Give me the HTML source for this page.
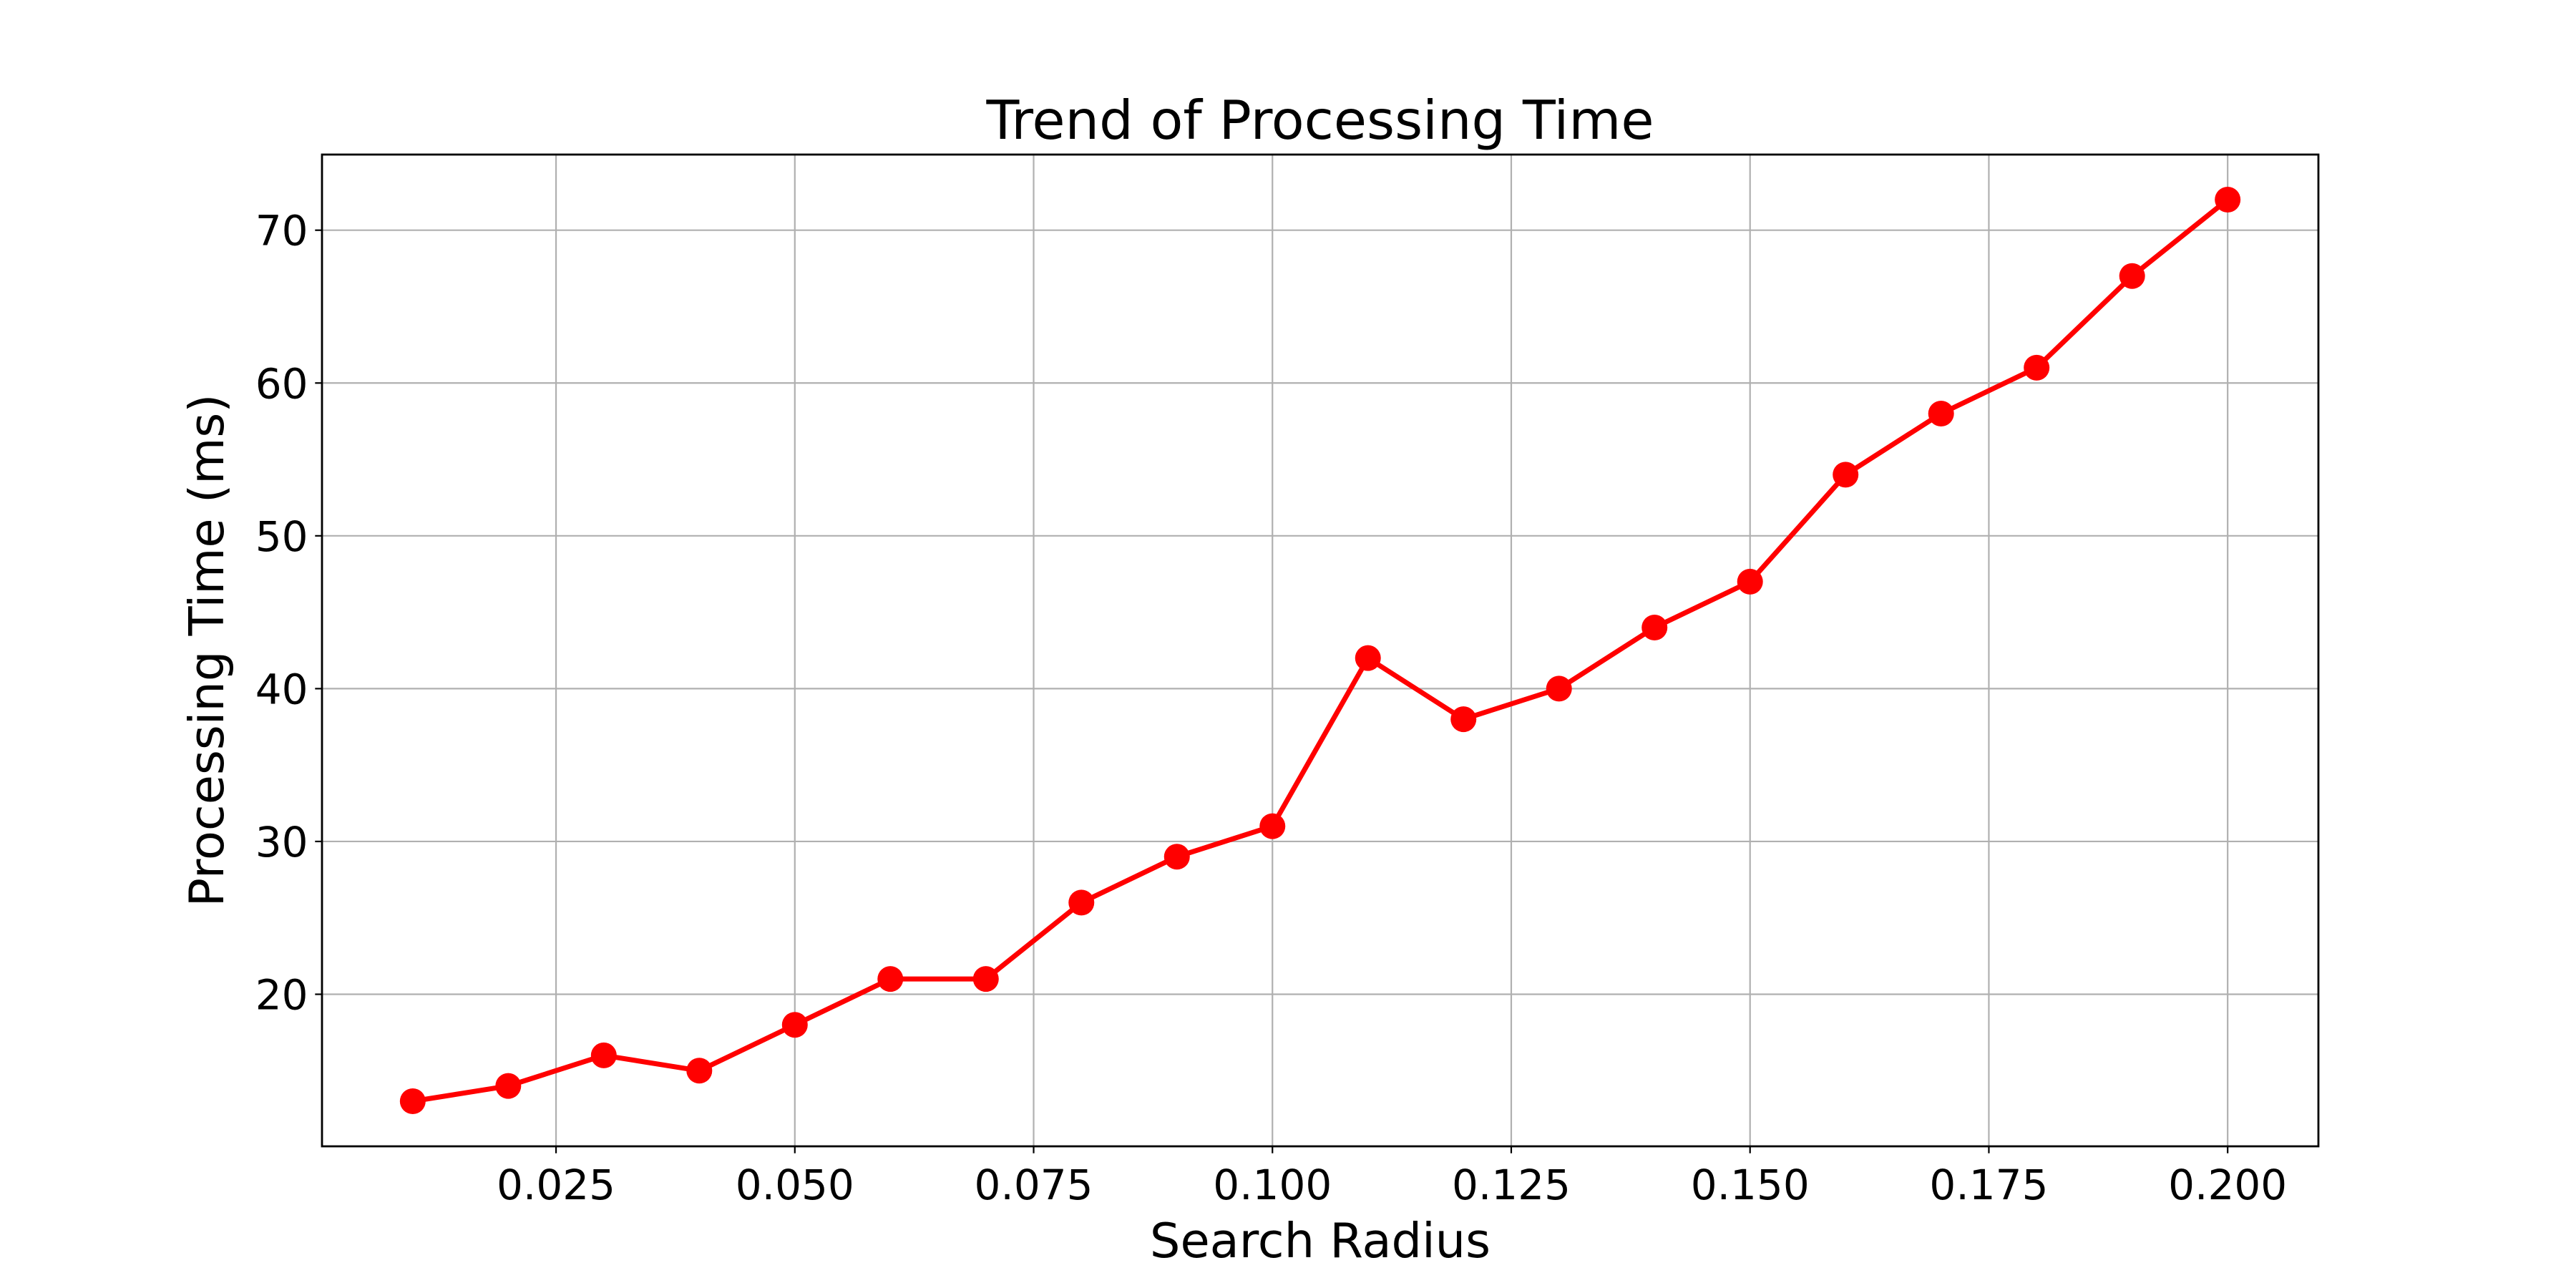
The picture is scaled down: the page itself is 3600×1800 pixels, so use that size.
<!DOCTYPE html>
<html><head><meta charset="utf-8"><style>
html,body{margin:0;padding:0;background:#fff;}
svg{display:block;font-family:"DejaVu Sans","Liberation Sans",sans-serif;}
</style></head><body>
<svg id="chart" width="3600" height="1800" viewBox="0 0 3600 1800" xmlns="http://www.w3.org/2000/svg">
<rect width="3600" height="1800" fill="#fff"/>
<g id="grid"></g>
<g id="ticks"></g>
<g id="series"></g>
<rect x="450" y="216" width="2790" height="1386" fill="none" stroke="#000" stroke-width="2.8"/>
<text x="1845" y="194" font-size="75" text-anchor="middle">Trend of Processing Time</text>
<text x="1845" y="1757" font-size="67" text-anchor="middle">Search Radius</text>
<text x="0" y="0" font-size="67" text-anchor="middle" transform="translate(312,909) rotate(-90)">Processing Time (ms)</text>
</svg>
<script>
const radii = [0.01,0.02,0.03,0.04,0.05,0.06,0.07,0.08,0.09,0.10,0.11,0.12,0.13,0.14,0.15,0.16,0.17,0.18,0.19,0.20];
const times = [13,14,16,15,18,21,21,26,29,31,42,38,40,44,47,54,58,61,67,72];
const xTicks = [0.025,0.050,0.075,0.100,0.125,0.150,0.175,0.200];
const xTickLabels = ["0.025","0.050","0.075","0.100","0.125","0.150","0.175","0.200"];
const yTicks = [20,30,40,50,60,70];
const yTickLabels = ["20","30","40","50","60","70"];

const L=450,R=3240,T=216,B=1602;
const xmin0=Math.min(...radii),xmax0=Math.max(...radii),xm=(xmax0-xmin0)*0.05;
const ymin0=Math.min(...times),ymax0=Math.max(...times),ym=(ymax0-ymin0)*0.05;
const xMin=xmin0-xm,xMax=xmax0+xm,yMin=ymin0-ym,yMax=ymax0+ym;
function sx(v){return L+(v-xMin)/(xMax-xMin)*(R-L);}
function sy(v){return B-(v-yMin)/(yMax-yMin)*(B-T);}
const NS="http://www.w3.org/2000/svg";
function mk(tag,attrs,parent){const e=document.createElementNS(NS,tag);for(const k in attrs)e.setAttribute(k,attrs[k]);parent.appendChild(e);return e;}
const grid=document.getElementById('grid'),ticks=document.getElementById('ticks'),series=document.getElementById('series');
xTicks.forEach((v,i)=>{
  const x=sx(v);
  const g=mk('line',{x1:x,x2:x,y1:T,y2:B,stroke:'#b0b0b0','stroke-width':2.2},grid);
  
  
  const t=mk('line',{x1:x,x2:x,y1:B,y2:B+9.7,stroke:'#000','stroke-width':2.2},ticks);
  
  
  const l=mk('text',{x:x,y:1676,'font-size':58,'text-anchor':'middle'},ticks);
  l.textContent=xTickLabels[i];
  
  
});
yTicks.forEach((v,i)=>{
  const y=sy(v);
  const g=mk('line',{x1:L,x2:R,y1:y,y2:y,stroke:'#b0b0b0','stroke-width':2.2},grid);
  
  
  const t=mk('line',{x1:L-9.7,x2:L,y1:y,y2:y,stroke:'#000','stroke-width':2.2},ticks);
  
  
  const l=mk('text',{x:L-19.4,y:y+21,'font-size':58,'text-anchor':'end'},ticks);
  l.textContent=yTickLabels[i];
  
  
});
const pts=radii.map((r,i)=>sx(r)+','+sy(times[i])).join(' ');
const pl=mk('polyline',{points:pts,fill:'none',stroke:'#ff0000','stroke-width':7,'stroke-linejoin':'round'},series);


radii.forEach((r,i)=>{
  const c=mk('circle',{cx:sx(r),cy:sy(times[i]),r:18,fill:'#ff0000'},series);
  
  
});
</script>
</body></html>
